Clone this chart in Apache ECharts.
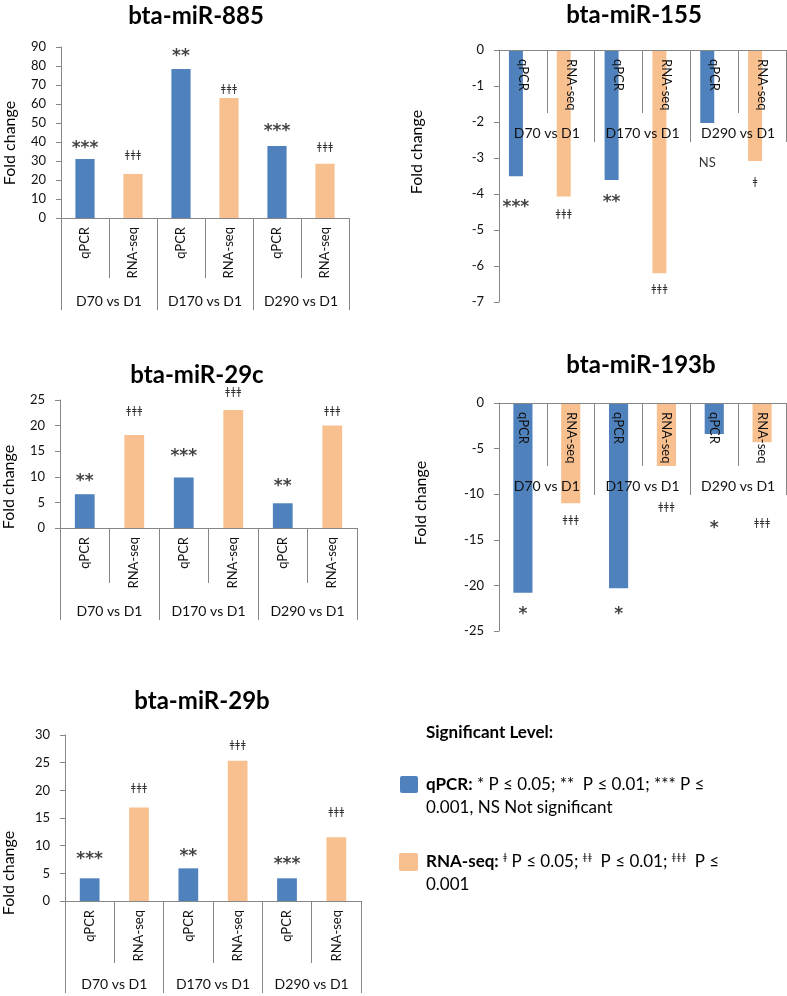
<!DOCTYPE html>
<html><head><meta charset="utf-8">
<script src="https://cdn.jsdelivr.net/npm/echarts@6/dist/echarts.min.js"></script>
<style>html,body{margin:0;padding:0;background:#fff}#c{width:787px;height:996px}</style>
</head><body><div id="c"></div>
<script>
// ---------- data ----------
const categories = ['qPCR', 'RNA-seq', 'qPCR', 'RNA-seq', 'qPCR', 'RNA-seq'];
const groups = ['D70 vs D1', 'D170 vs D1', 'D290 vs D1'];

const miR885Ticks = [0, 10, 20, 30, 40, 50, 60, 70, 80, 90];
const miR885Values = [31.0, 23.2, 78.4, 63.2, 37.9, 28.6];
const miR885Marks = ['***', 'ǂǂǂ', '**', 'ǂǂǂ', '***', 'ǂǂǂ'];
const miR885MarkLevels = [39.4, 32.7, 87.5, 67.8, 48.2, 37.3];

const miR155Ticks = [-7, -6, -5, -4, -3, -2, -1, 0];
const miR155Values = [-3.51, -4.07, -3.61, -6.2, -2.03, -3.08];
const miR155Marks = ['***', 'ǂǂǂ', '**', 'ǂǂǂ', 'NS', 'ǂ'];
const miR155MarkLevels = [-4.25, -4.58, -4.09, -6.66, -3.12, -3.68];

const miR29cTicks = [0, 5, 10, 15, 20, 25];
const miR29cValues = [6.6, 18.15, 9.86, 23.04, 4.83, 20.04];
const miR29cMarks = ['**', 'ǂǂǂ', '***', 'ǂǂǂ', '**', 'ǂǂǂ'];
const miR29cMarkLevels = [10.1, 22.7, 14.9, 26.4, 9.0, 22.7];

const miR193bTicks = [-25, -20, -15, -10, -5, 0];
const miR193bValues = [-20.8, -11.0, -20.3, -6.9, -3.4, -4.3];
const miR193bMarks = ['*', 'ǂǂǂ', '*', 'ǂǂǂ', '*', 'ǂǂǂ'];
const miR193bMarkLevels = [-22.7, -12.9, -22.6, -11.5, -13.2, -13.2];

const miR29bTicks = [0, 5, 10, 15, 20, 25, 30];
const miR29bValues = [4.1, 16.9, 5.9, 25.35, 4.1, 11.5];
const miR29bMarks = ['***', 'ǂǂǂ', '**', 'ǂǂǂ', '***', 'ǂǂǂ'];
const miR29bMarkLevels = [8.45, 20.3, 8.9, 28.2, 7.4, 16.1];

// ---------- layout / style ----------
const BLUE = '#4F81BD', ORANGE = '#F9C08F', AXIS = '#868686', TXT = '#111';
const FONT = 'Lato, "Noto Sans", sans-serif';
const SYMFONT = '"DejaVu Sans", sans-serif';

const panels = [
  {title: 'bta-miR-885', ticks: miR885Ticks, values: miR885Values, marks: miR885Marks, levels: miR885MarkLevels,
   grid: {left: 61, top: 47, width: 288, height: 171}, tx: 196, ty: 16, nx: 10, ny: 143, inner: 60, paired: false, neg: false},
  {title: 'bta-miR-155', ticks: miR155Ticks, values: miR155Values, marks: miR155Marks, levels: miR155MarkLevels,
   grid: {left: 499, top: 50, width: 287, height: 252}, tx: 634, ty: 15, nx: 417, ny: 152, inner: 63, paired: true, neg: true},
  {title: 'bta-miR-29c', ticks: miR29cTicks, values: miR29cValues, marks: miR29cMarks, levels: miR29cMarkLevels,
   grid: {left: 60, top: 400, width: 297, height: 128}, tx: 197, ty: 375, nx: 9, ny: 487, inner: 55, paired: false, neg: false},
  {title: 'bta-miR-193b', ticks: miR193bTicks, values: miR193bValues, marks: miR193bMarks, levels: miR193bMarkLevels,
   grid: {left: 499, top: 403, width: 287, height: 228}, tx: 641, ty: 365, nx: 421, ny: 503, inner: 63, paired: false, neg: true},
  {title: 'bta-miR-29b', ticks: miR29bTicks, values: miR29bValues, marks: miR29bMarks, levels: miR29bMarkLevels,
   grid: {left: 65, top: 735, width: 296, height: 166}, tx: 202, ty: 701, nx: 9, ny: 873, inner: 62, paired: false, neg: false}
];

function markLabel(m, paired) {
  const dx = paired ? -7 : 0;
  if (m.indexOf('*') >= 0) {
    return {fontSize: 17, fontWeight: 'bold', fontFamily: SYMFONT, color: '#111', offset: [dx, 5]};
  } else if (m.indexOf('ǂ') >= 0) {
    return {fontSize: 10, fontFamily: SYMFONT, color: '#000', offset: [dx, 0]};
  }
  return {fontSize: 13, fontFamily: FONT, color: '#000', offset: [dx, 0]};
}

const grid = [], xAxis = [], yAxis = [], series = [], graphic = [];
panels.forEach((p, i) => {
  grid.push(Object.assign({containLabel: false}, p.grid));
  const pos = p.neg ? 'top' : 'bottom';
  xAxis.push({
    type: 'category', gridIndex: i, data: categories, position: pos, z: 10,
    axisLine: {onZero: false, lineStyle: {color: AXIS, width: 1}},
    axisTick: {show: true, inside: p.neg, interval: 0, length: p.inner, lineStyle: {color: AXIS}},
    axisLabel: {inside: p.neg, interval: 0, rotate: 90, margin: 9, fontSize: 13, color: TXT, fontFamily: FONT},
    splitLine: {show: false}
  });
  xAxis.push({
    type: 'category', gridIndex: i, data: groups, position: pos, z: 10,
    axisLine: {show: true, onZero: false, lineStyle: {color: AXIS, opacity: 0}},
    axisTick: {show: true, inside: p.neg, interval: 0, length: 92, lineStyle: {color: AXIS}},
    axisLabel: {inside: p.neg, interval: 0, margin: 76, fontSize: 14, color: TXT, fontFamily: FONT},
    splitLine: {show: false}
  });
  const t = p.ticks;
  yAxis.push({
    type: 'value', gridIndex: i, min: t[0], max: t[t.length - 1], interval: t[1] - t[0],
    axisLine: {show: true, onZero: false, lineStyle: {color: AXIS}},
    axisTick: {show: true, length: 5, lineStyle: {color: AXIS}},
    axisLabel: {margin: 15, fontSize: 13, color: TXT, fontFamily: FONT},
    splitLine: {show: false}
  });
  series.push({
    type: 'bar', xAxisIndex: 2 * i, yAxisIndex: i, data: p.values,
    barWidth: p.paired ? 14 : '40%', barGap: '0%', z: 2,
    itemStyle: {color: (q) => q.name === 'qPCR' ? BLUE : ORANGE}
  });
  if (p.paired) {
    series.push({type: 'bar', xAxisIndex: 2 * i, yAxisIndex: i, data: p.values.map(() => '-'), barWidth: 14, barGap: '0%'});
  }
  series.push({
    type: 'scatter', xAxisIndex: 2 * i, yAxisIndex: i, symbolSize: 0, clip: false, z: 12,
    label: {show: true, position: 'inside', formatter: (q) => q.data.text},
    data: p.marks.map((m, k) => ({value: [k, p.levels[k]], text: m.indexOf('ǂ') >= 0 ? m.split('').join('\u200a') : m, label: markLabel(m, p.paired)}))
  });
  graphic.push({type: 'text', x: p.tx, y: p.ty, z: 20,
    style: {text: p.title, align: 'center', verticalAlign: 'middle', fontSize: 24, fontWeight: 'bold', fontFamily: FONT, fill: '#000'}});
  graphic.push({type: 'text', x: p.nx, y: p.ny, rotation: Math.PI / 2, z: 20,
    style: {text: 'Fold change', align: 'center', verticalAlign: 'middle', fontSize: 16, fontFamily: FONT, fill: '#000'}});
});

// legend block
const LF = 17;
graphic.push({type: 'text', x: 426, y: 733, style: {text: 'Significant Level:', verticalAlign: 'middle', fontSize: LF, fontWeight: 'bold', fontFamily: FONT, fill: '#000'}});
graphic.push({type: 'rect', shape: {x: 400, y: 776, width: 18, height: 17, r: 2}, style: {fill: BLUE}});
graphic.push({type: 'text', x: 426, y: 785, style: {
  text: '{b|qPCR:} * P ≤ 0.05; **  P ≤ 0.01; *** P ≤', verticalAlign: 'middle', fontSize: LF, fontFamily: FONT, fill: '#000',
  rich: {b: {fontWeight: 'bold', fontSize: LF, fontFamily: FONT, fill: '#000'}}}});
graphic.push({type: 'text', x: 426, y: 808, style: {text: '0.001, NS Not significant', verticalAlign: 'middle', fontSize: LF, fontFamily: FONT, fill: '#000'}});
graphic.push({type: 'rect', shape: {x: 399, y: 853, width: 19, height: 18, r: 2}, style: {fill: ORANGE}});
graphic.push({type: 'text', x: 426, y: 862, style: {
  text: '{b|RNA-seq:} {s|ǂ} P ≤ 0.05; {s|ǂ\u200aǂ}  P ≤ 0.01; {s|ǂ\u200aǂ\u200aǂ}  P ≤', verticalAlign: 'middle', fontSize: LF, fontFamily: FONT, fill: '#000',
  rich: {b: {fontWeight: 'bold', fontSize: LF, fontFamily: FONT, fill: '#000'},
         s: {fontSize: 9, fontFamily: SYMFONT, fill: '#000', padding: [0, 0, 8, 0]}}}});
graphic.push({type: 'text', x: 426, y: 885, style: {text: '0.001', verticalAlign: 'middle', fontSize: LF, fontFamily: FONT, fill: '#000'}});

const chart = echarts.init(document.getElementById('c'), null, {renderer: 'canvas'});
chart.setOption({animation: false, backgroundColor: '#fff', grid, xAxis, yAxis, series, graphic});
</script></body></html>
